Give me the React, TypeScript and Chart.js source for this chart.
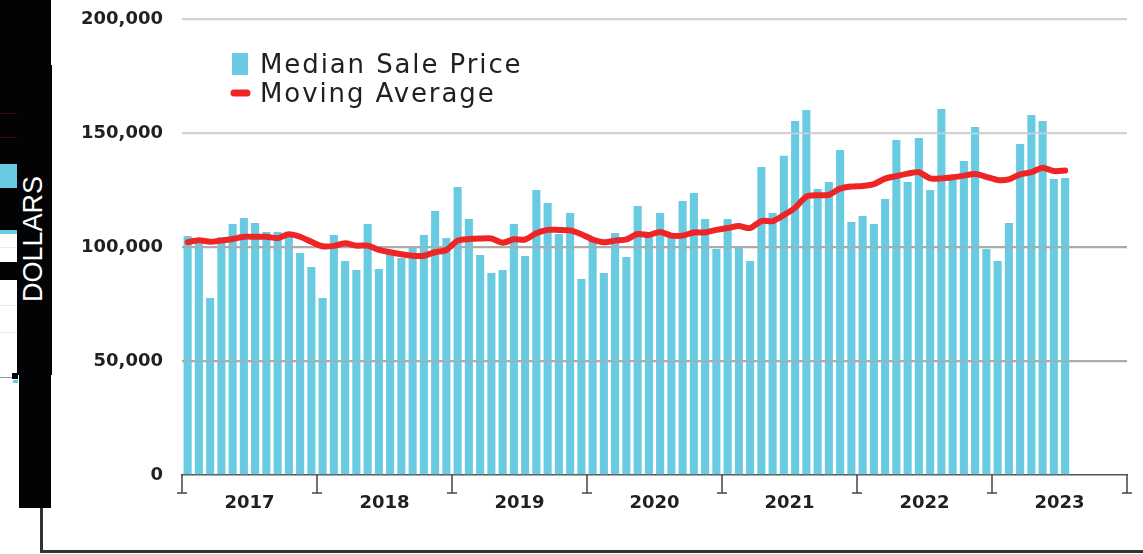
import React, { useEffect, useRef } from "react";
import { Chart, registerables } from "chart.js";

Chart.register(...registerables);

const YEARS = ["2017", "2018", "2019", "2020", "2021", "2022", "2023"];
const MONTHS = ["Jan", "Feb", "Mar", "Apr", "May", "Jun", "Jul", "Aug", "Sep", "Oct", "Nov", "Dec"];
const CATEGORIES: string[] = YEARS.flatMap((y) => MONTHS.map((m) => `${m} ${y}`));

const MEDIAN_SALE_PRICE = [
  // 2017
  104800, 102500, 77600, 104400, 110100, 112700, 110500, 106600, 106600, 104400, 97400, 91200,
  // 2018
  77600, 105300, 93900, 89900, 110100, 90400, 98200, 95200, 100000, 105300, 115800, 103900,
  // 2019
  126300, 112300, 96500, 88600, 89900, 110100, 96100, 125000, 119300, 105700, 114900, 86000,
  // 2020
  103100, 88600, 106100, 95600, 118000, 104400, 114900, 104400, 120200, 123700, 112300, 99100,
  // 2021
  112300, 100000, 93900, 135100, 114900, 140000, 155300, 160100, 125400, 128500, 142500, 111000,
  // 2022
  113600, 110100, 121100, 146900, 128500, 147800, 125000, 160500, 129400, 137700, 152600, 99100,
  // 2023
  93900, 110500, 145200, 157900, 155300, 129800, 130300,
];

const MOVING_AVERAGE = [
  // 2017
  102100, 103000, 102300, 102800, 103500, 104500, 104500, 104500, 103900, 105600, 104500, 102300,
  // 2018
  100300, 100500, 101600, 100600, 100600, 98700, 97700, 96800, 96200, 96200, 97700, 98700,
  // 2019
  102800, 103500, 103700, 103700, 101900, 103400, 103300, 106000, 107500, 107500, 107300, 105600,
  // 2020
  103300, 102100, 102800, 103300, 105700, 105300, 106600, 105000, 105000, 106400, 106400, 107500,
  // 2021
  108300, 109200, 108300, 111400, 111300, 114000, 117200, 122100, 122700, 122900, 125600, 126500,
  // 2022
  126800, 127600, 130000, 131100, 132200, 132800, 130100, 130100, 130600, 131300, 132000, 130800,
  // 2023
  129400, 129700, 131900, 132800, 134800, 133300, 133500,
];

const Y_TICKS = [0, 50000, 100000, 150000, 200000];

const BAR_COLOR = "#68cbe2";
const LINE_COLOR = "#ee2524";
const TEXT_COLOR = "#231f20";

const gridColor = (v: number) =>
  v === 0 ? "rgba(0,0,0,0)" : v >= 150000 ? "#d2d2d2" : "#ababab";

const overlayPlugin = {
  id: "overlayPlugin",
  afterDatasetDraw(chart: any, args: any) {
    if (args.index !== 0) return;
    const { ctx, chartArea, scales } = chart;
    const y = scales.y;
    ctx.save();
    ctx.lineWidth = 1.5;
    Y_TICKS.forEach((v) => {
      if (v === 0) return;
      const py = Math.round(y.getPixelForValue(v)) + 0.5;
      ctx.strokeStyle = gridColor(v);
      ctx.beginPath();
      ctx.moveTo(chartArea.left, py);
      ctx.lineTo(chartArea.right, py);
      ctx.stroke();
    });
    ctx.restore();
  },
  afterDraw(chart: any) {
    const { ctx, scales } = chart;
    const x = scales.x;
    const y0 = scales.y.getPixelForValue(0);
    const half = (x.getPixelForValue(1) - x.getPixelForValue(0)) / 2;
    ctx.save();
    ctx.strokeStyle = "#444";
    ctx.lineWidth = 1.5;
    for (let i = 0; i <= YEARS.length; i++) {
      const idx = i * 12;
      const px =
        idx < CATEGORIES.length
          ? x.getPixelForValue(idx) - half
          : x.getPixelForValue(CATEGORIES.length - 1) + half;
      ctx.beginPath();
      ctx.moveTo(px, y0);
      ctx.lineTo(px, y0 + 18);
      ctx.moveTo(px - 5, y0 + 18);
      ctx.lineTo(px + 5, y0 + 18);
      ctx.stroke();
    }
    // legend
    const ds = chart.data.datasets;
    ctx.fillStyle = ds[0].backgroundColor;
    ctx.fillRect(232, 53, 16, 22);
    ctx.strokeStyle = ds[1].borderColor;
    ctx.lineWidth = 7;
    ctx.lineCap = "round";
    ctx.beginPath();
    ctx.moveTo(234, 93);
    ctx.lineTo(247, 93);
    ctx.stroke();
    ctx.fillStyle = TEXT_COLOR;
    ctx.font = "26px 'DejaVu Sans'";
    (ctx as any).letterSpacing = "1.9px";
    ctx.textBaseline = "alphabetic";
    ctx.textAlign = "left";
    ctx.fillText(ds[0].label, 260, 73);
    ctx.fillText(ds[1].label, 260, 102);
    ctx.restore();
  },
};

export default function App() {
  const ref = useRef<HTMLCanvasElement | null>(null);

  useEffect(() => {
    if (!ref.current) return;
    const chart = new Chart(ref.current, {
      type: "bar",
      data: {
        labels: CATEGORIES,
        datasets: [
          {
            type: "bar",
            label: "Median Sale Price",
            data: MEDIAN_SALE_PRICE,
            backgroundColor: BAR_COLOR,
            borderWidth: 0,
            barPercentage: 0.72,
            categoryPercentage: 1.0,
            order: 2,
          },
          {
            type: "line",
            label: "Moving Average",
            data: MOVING_AVERAGE,
            borderColor: LINE_COLOR,
            backgroundColor: LINE_COLOR,
            borderWidth: 6,
            pointRadius: 0,
            tension: 0.25,
            borderJoinStyle: "round",
            borderCapStyle: "round",
            order: 1,
          },
        ],
      } as any,
      plugins: [overlayPlugin],
      options: {
        responsive: false,
        animation: false,
        layout: { padding: { top: 19, right: 16, left: 0, bottom: 0 } },
        plugins: {
          legend: { display: false },
          tooltip: { enabled: false },
        },
        scales: {
          x: {
            offset: true,
            grid: { display: false, drawTicks: false },
            border: { display: true, color: "#555", width: 1.5 },
            ticks: {
              autoSkip: false,
              maxRotation: 0,
              minRotation: 0,
              padding: 18,
              labelOffset: 5.6,
              color: TEXT_COLOR,
              font: { family: "'DejaVu Sans'", size: 18, weight: "bold" },
              callback: (_v: any, i: number) => (i % 12 === 5 ? YEARS[Math.floor(i / 12)] : ""),
            },
            afterFit: (s: any) => {
              s.height = 79;
              s.paddingLeft = 0;
              s.paddingRight = 0;
            },
          },
          y: {
            min: 0,
            max: 200000,
            afterBuildTicks: (s: any) => {
              s.ticks = Y_TICKS.map((v) => ({ value: v }));
            },
            grid: {
              drawTicks: false,
              lineWidth: 1.5,
              color: (c: any) => gridColor(c.tick ? c.tick.value : 0),
            },
            border: { display: false },
            ticks: {
              padding: 19,
              color: TEXT_COLOR,
              font: { family: "'DejaVu Sans'", size: 18, weight: "bold" },
              callback: (v: any) => Number(v).toLocaleString("en-US"),
            },
            afterFit: (s: any) => {
              s.width = 182;
              s.paddingTop = 0;
              s.paddingBottom = 0;
            },
          },
        },
      } as any,
    });
    return () => chart.destroy();
  }, []);

  const box = (l: number, t: number, w: number, h: number, bg: string) => (
    <div
      style={{ position: "absolute", left: l, top: t, width: w, height: h, background: bg }}
    />
  );

  return (
    <div style={{ position: "absolute", left: 0, top: 0, width: 1143, height: 554, background: "#fff", overflow: "hidden" }}>
      <canvas ref={ref} width={1143} height={554} style={{ display: "block", position: "absolute", left: 0, top: 0 }} />
      {box(0, 0, 51, 65, "#030306")}
      {box(0, 65, 52, 310, "#030306")}
      {box(0, 113, 17, 1, "#3a0a0a")}
      {box(0, 137, 17, 1, "#3a0a0a")}
      {box(0, 164, 17, 24, BAR_COLOR)}
      {box(0, 230, 17, 4, BAR_COLOR)}
      {box(0, 234, 17, 28, "#ffffff")}
      {box(0, 247, 17, 1, "#e4eef2")}
      {box(0, 280, 17, 95, "#ffffff")}
      {box(0, 305, 17, 1, "#e4eef2")}
      {box(0, 332, 17, 1, "#e4eef2")}
      {box(0, 377, 12, 1, "#999")}
      {box(12, 373, 6, 6, "#030306")}
      {box(13, 380, 5, 3, BAR_COLOR)}
      {box(19, 375, 32, 133, "#030306")}
      {box(40, 508, 3, 45, "#333")}
      {box(40, 550, 1103, 3, "#333")}
      <div
        style={{
          position: "absolute",
          left: 33,
          top: 239,
          transform: "translate(-50%, -50%) rotate(-90deg)",
          color: "#fff",
          fontFamily: "'Liberation Sans', Arial, sans-serif",
          fontSize: 27,
          lineHeight: "27px",
          whiteSpace: "nowrap",
        }}
      >
        DOLLARS
      </div>
    </div>
  );
}
